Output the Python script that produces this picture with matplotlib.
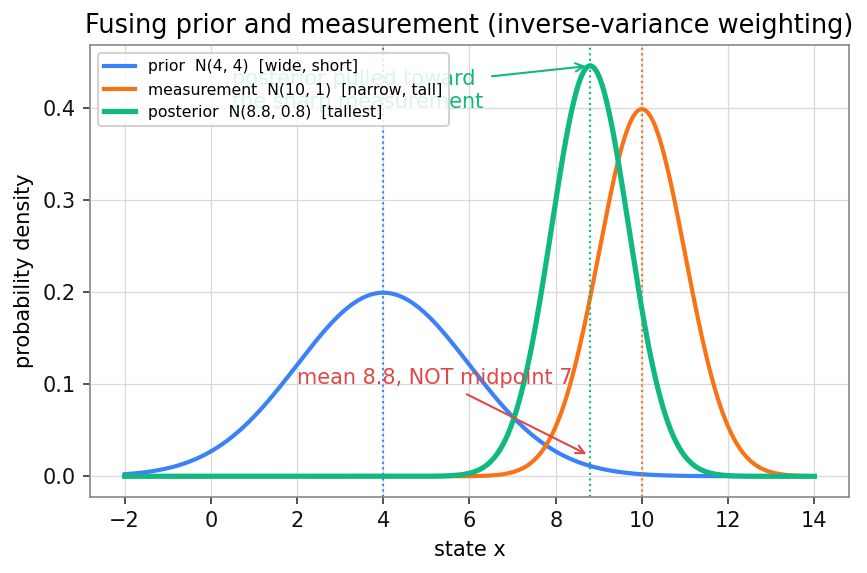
import matplotlib
matplotlib.use("Agg")
import matplotlib.pyplot as plt
import numpy as np

# gaussian parameters (mean, variance)
names = ["prior", "measurement", "posterior"]
means = [4.0, 10.0, 8.8]
variances = [4.0, 1.0, 0.8]
labels = ["prior  N(4, 4)  [wide, short]",
          "measurement  N(10, 1)  [narrow, tall]",
          "posterior  N(8.8, 0.8)  [tallest]"]
colors = ["#3b82f6", "#f97316", "#10b981"]
widths = [2.0, 2.0, 2.5]
x_range = [-2, 14]

x = np.linspace(x_range[0], x_range[1], 500)

fig, ax = plt.subplots(figsize=(5.78, 3.82), dpi=150)
fig.subplots_adjust(left=0.104, right=0.979, top=0.921, bottom=0.133)

for m, v, lab, c, lw in zip(means, variances, labels, colors, widths):
    y = np.exp(-(x - m) ** 2 / (2 * v)) / np.sqrt(2 * np.pi * v)
    ax.plot(x, y, color=c, lw=lw, label=lab)
    ax.axvline(m, color=c, lw=1, ls=":")

post_peak = 1 / np.sqrt(2 * np.pi * variances[2])
ax.annotate("posterior pulled toward\nthe sharp measurement",
            xy=(means[2], post_peak), xytext=(0.5, 0.40),
            color="#10b981", fontsize=10,
            arrowprops=dict(arrowstyle="->", color="#10b981", lw=1))
ax.annotate("mean 8.8, NOT midpoint 7",
            xy=(means[2], 0.022), xytext=(2.0, 0.1),
            color="#e04848", fontsize=10,
            arrowprops=dict(arrowstyle="->", color="#e04848", lw=1))

ax.set_title("Fusing prior and measurement (inverse-variance weighting)", fontsize=12.3)
ax.set_xlabel("state x", fontsize=10)
ax.set_ylabel("probability density", fontsize=10)
ax.set_xticks(np.arange(-2, 15, 2))
ax.grid(True, color="#d9d9d9", lw=0.6)
ax.set_axisbelow(True)
for s in ax.spines.values():
    s.set_color("#888888")
ax.tick_params(colors="#333333", labelcolor="#111111", labelsize=10)
ax.legend(loc="upper left", fontsize=7.5, framealpha=0.85)

fig.savefig("out.png")
